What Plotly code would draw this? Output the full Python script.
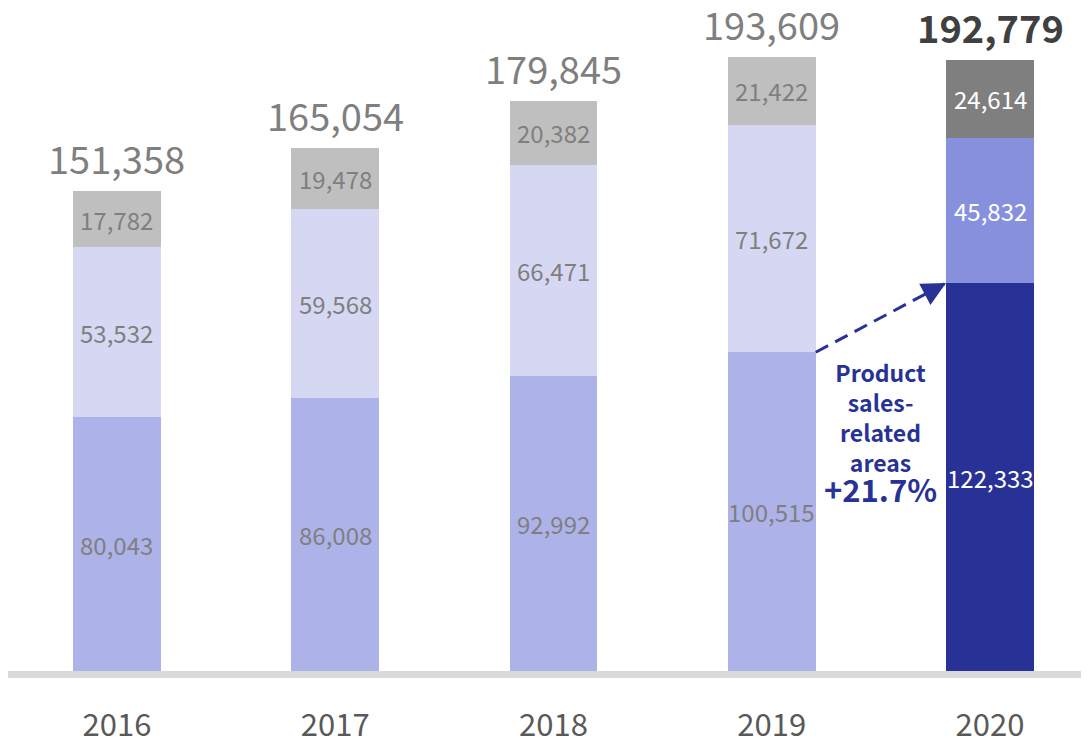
import plotly.graph_objects as go

# Data
years = ['2016', '2017', '2018', '2019', '2020']
bottom_vals = [80043, 86008, 92992, 100515, 122333]
middle_vals = [53532, 59568, 66471, 71672, 45832]
top_vals = [17782, 19478, 20382, 21422, 24614]
totals = [151358, 165054, 179845, 193609, 192779]
growth_label = '+21.7%'
growth_title = 'Product<br>sales-<br>related<br>areas'

# Colours: past years pale, 2020 highlighted
bottom_colors = ['#adb3e9'] * 4 + ['#283296']
middle_colors = ['#d6d8f3'] * 4 + ['#8790dc']
top_colors = ['#bfbfbf'] * 4 + ['#7f7f7f']
label_colors = ['#7f7f7f'] * 4 + ['#ffffff']

FONT = 'Noto Sans CJK JP'
ACCENT = '#283296'
BAR_W = 0.403

x = list(range(len(years)))

fig = go.Figure()
for vals, cols in [(bottom_vals, bottom_colors), (middle_vals, middle_colors), (top_vals, top_colors)]:
    fig.add_trace(go.Bar(
        x=x, y=vals, width=BAR_W,
        marker=dict(color=cols, line=dict(width=0)),
        hoverinfo='skip', showlegend=False
    ))

annotations = []

# Segment labels (centred in each stacked segment)
for i in x:
    base = 0
    for vals in (bottom_vals, middle_vals, top_vals):
        annotations.append(dict(
            x=i, y=base + vals[i] / 2, xref='x', yref='y',
            text=f'{vals[i]:,}', showarrow=False,
            font=dict(family=FONT, size=24, color=label_colors[i])
        ))
        base += vals[i]

# Totals above the bars, last one bold
for i in x:
    last = i == len(years) - 1
    annotations.append(dict(
        x=i, y=totals[i], xref='x', yref='y',
        text=f'<b>{totals[i]:,}</b>' if last else f'{totals[i]:,}',
        showarrow=False, yanchor='bottom', yshift=4,
        font=dict(family=FONT, size=38, color='#404040' if last else '#7f7f7f')
    ))

# Dashed growth arrow between the product-sales segments of 2019 and 2020
x0, y0 = 3 + BAR_W / 2, bottom_vals[3]
x1, y1 = 4 - BAR_W / 2, bottom_vals[4]
fig.add_trace(go.Scatter(
    x=[x0, x1], y=[y0, y1], mode='lines',
    line=dict(color=ACCENT, width=3, dash='14px,8px'),
    hoverinfo='skip', showlegend=False
))
annotations.append(dict(
    x=x1, y=y1, xref='x', yref='y',
    ax=x0 + (x1 - x0) * 0.85, ay=y0 + (y1 - y0) * 0.85, axref='x', ayref='y',
    text='', showarrow=True, arrowhead=2, arrowsize=1.6, arrowwidth=3,
    arrowcolor=ACCENT, standoff=0
))

annotations.append(dict(
    x=3.5, y=bottom_vals[3], xref='x', yref='y',
    text=f'<b>{growth_title}<br><span style="font-size:31px">{growth_label}</span></b>',
    showarrow=False, yanchor='top', yshift=-1, align='center',
    font=dict(family=FONT, size=23, color=ACCENT)
))

# the page body adds an 8px margin, so the figure is sized to the remaining area
fig.update_layout(
    width=1081, height=730,
    margin=dict(l=0, r=0, t=0, b=60),
    paper_bgcolor='white', plot_bgcolor='white',
    barmode='stack', bargap=0,
    annotations=annotations,
    shapes=[dict(
        type='rect', xref='paper', yref='paper',
        x0=0, x1=1, y0=0, y1=7 / 670,
        fillcolor='#d9d9d9', line=dict(width=0), layer='below'
    )],
    xaxis=dict(
        range=[-0.4994, 4.4536], tickvals=x, ticktext=years,
        showgrid=False, zeroline=False, showline=False, ticks='',
        ticklabelstandoff=26, automargin=False,
        tickfont=dict(family=FONT, size=31, color='#595959'), fixedrange=True
    ),
    yaxis=dict(
        range=[-2207, 209063], visible=False, showgrid=False, zeroline=False,
        fixedrange=True, automargin=False
    ),
)

fig.write_html('out.html')
